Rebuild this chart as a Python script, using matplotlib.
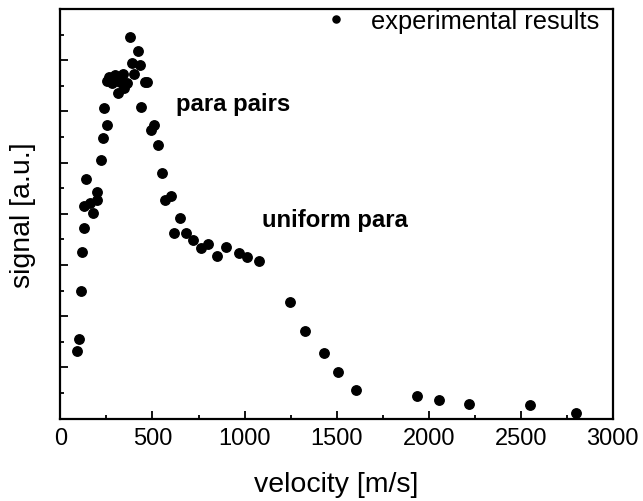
import matplotlib
matplotlib.use("Agg")
import matplotlib.pyplot as plt
from matplotlib.ticker import MultipleLocator, NullFormatter

plt.rcParams['font.family'] = ['Liberation Sans', 'DejaVu Sans']

# velocity [m/s] and signal [a.u.]
velocity = [88, 100, 110, 118, 128, 128, 160, 178, 200, 200, 138, 218, 229, 251,
            238, 251, 263, 278, 296, 310, 323, 341, 346, 359, 377, 386, 401, 419,
            432, 437, 458, 472, 490, 509, 528, 549, 567, 600, 618, 649, 680, 718,
            761, 803, 848, 898, 969, 1011, 1079, 1248, 1329, 1431, 1508, 1608,
            1939, 2057, 2218, 2549, 2802]
signal = [2.65, 3.11, 4.98, 6.52, 7.43, 8.29, 8.42, 8.05, 8.54, 8.84, 9.36, 10.11,
          10.96, 11.46, 12.12, 13.20, 13.33, 13.13, 13.42, 12.74, 13.16, 13.46,
          12.93, 13.13, 14.89, 13.91, 13.46, 14.37, 13.81, 12.18, 13.16, 13.16,
          11.27, 11.46, 10.68, 9.58, 8.55, 8.68, 7.25, 7.82, 7.27, 6.98, 6.65,
          6.82, 6.34, 6.69, 6.49, 6.30, 6.15, 4.56, 3.43, 2.56, 1.83, 1.11,
          0.88, 0.73, 0.58, 0.52, 0.21]

annotations = [("para pairs", 627, 12.32), ("uniform para", 1094, 7.79)]

fig = plt.figure(figsize=(6.43, 5.02), dpi=100)
ax = fig.add_axes([0.094, 0.164, 0.859, 0.816])

ax.plot(velocity, signal, 'o', color='black', markersize=6.8,
        label='experimental results')

for txt, x, y in annotations:
    ax.text(x, y, txt, fontsize=17.2, fontweight='bold', va='center', ha='left')

ax.set_xlim(0, 3000)
ax.set_ylim(0, 16)
ax.xaxis.set_major_locator(MultipleLocator(500))
ax.xaxis.set_minor_locator(MultipleLocator(250))
ax.yaxis.set_major_locator(MultipleLocator(2))
ax.yaxis.set_minor_locator(MultipleLocator(1))
ax.yaxis.set_major_formatter(NullFormatter())

ax.tick_params(which='both', direction='in', width=1.3, labelsize=17)
ax.tick_params(which='major', length=6)
ax.tick_params(which='minor', length=3)
ax.tick_params(axis='x', pad=6)
for s in ax.spines.values():
    s.set_linewidth(1.6)

ax.set_xlabel("velocity [m/s]", fontsize=20.5, labelpad=16)
ax.set_ylabel("signal [a.u.]", fontsize=20.5, labelpad=14)

ax.legend(loc='upper right', bbox_to_anchor=(0.975, 1.0), frameon=False,
          fontsize=18.3, markerscale=0.75, borderpad=0, borderaxespad=0,
          handletextpad=0.75, handlelength=1.2)

fig.savefig("out.png", dpi=100)
